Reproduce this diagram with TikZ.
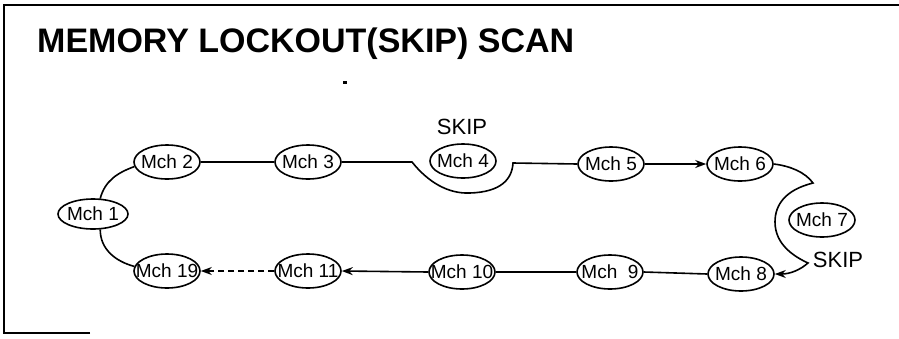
\documentclass[tikz,border=0pt]{standalone}
\usepackage{fontspec}
\setmainfont{Liberation Sans}
\usetikzlibrary{shapes.geometric,arrows.meta}
\begin{document}
\begin{tikzpicture}[x=1pt,y=-1pt,
  mch/.style={draw,ellipse,line width=1.6pt,inner sep=0pt,minimum width=66pt,minimum height=34pt,font=\fontsize{19}{19}\selectfont},
  conn/.style={line width=1.6pt},
  arr/.style={conn,-{Stealth[length=11pt,width=8pt]}},
  lbl/.style={font=\fontsize{22}{22}\selectfont,inner sep=0pt}]
\useasboundingbox (0,0) rectangle (899,338);
% frame
\draw[line width=1.6pt] (90,333) -- (4,333) -- (4,5) -- (899,5);
% title
\node[anchor=base west,inner sep=0pt,font=\fontsize{34}{34}\selectfont\bfseries] (title) at (37,52) {MEMORY LOCKOUT(SKIP) SCAN};
% stray dot
\fill (343,80.5) rectangle (347,83.5);
% nodes
\node[mch,minimum width=70pt,minimum height=30pt] (m1) at (93,214) {\makebox[0pt]{Mch 1}};
\node[mch] (m2) at (167,162) {\makebox[0pt]{Mch 2}};
\node[mch] (m3) at (308,162) {\makebox[0pt]{Mch 3}};
\node[mch] (m4) at (463,161) {\makebox[0pt]{Mch 4}};
\node[mch] (m5) at (611,164) {\makebox[0pt]{Mch 5}};
\node[mch] (m6) at (740,164) {\makebox[0pt]{Mch 6}};
\node[mch] (m7) at (822,220) {\makebox[0pt]{Mch 7}};
\node[mch] (m8) at (741,274) {\makebox[0pt]{Mch 8}};
\node[mch] (m9) at (610,272) {\makebox[0pt]{Mch\ \ 9}};
\node[mch] (m10) at (462,272) {\makebox[0pt]{Mch 10}};
\node[mch] (m11) at (308,271) {\makebox[0pt]{Mch 11}};
\node[mch] (m19) at (167,271) {\makebox[0pt]{Mch 19}};
% labels
\node[lbl] (skip1) at (462,127) {SKIP};
\node[lbl] (skip2) at (838,260) {SKIP};
% bypass points
\coordinate (a1) at (412,162);
\coordinate (a2) at (513,163);
\coordinate (c1) at (813,183);
\coordinate (c2) at (808,263);
% connectors
\draw[conn] (m1.65) to[out=75,in=200] (m2.188);
\draw[conn] (m1.295) to[out=-90,in=165] (m19.172);
\draw[conn] (m2.east) -- (m3.west);
\draw[conn] (m3.east) -- (a1) .. controls (428,182) and (448,194) .. (470,193)
   .. controls (500,192) and (512,180) .. (a2) -- (m5.west);
\draw[arr] (m5.east) -- (m6.west);
\draw[arr] (m6.east) .. controls (790,166) and (805,172) .. (c1)
   .. controls (785,190) and (775,205) .. (775,222)
   .. controls (775,245) and (795,257) .. (c2)
   .. controls (800,270) and (790,274) .. (m8.east);
\draw[conn] (m8.west) -- (m9.east);
\draw[conn] (m9.west) -- (m10.east);
\draw[arr] (m10.west) -- (m11.east);
\draw[arr,dash pattern=on 6pt off 4pt] (m11.west) -- (m19.east);
\end{tikzpicture}
\end{document}
